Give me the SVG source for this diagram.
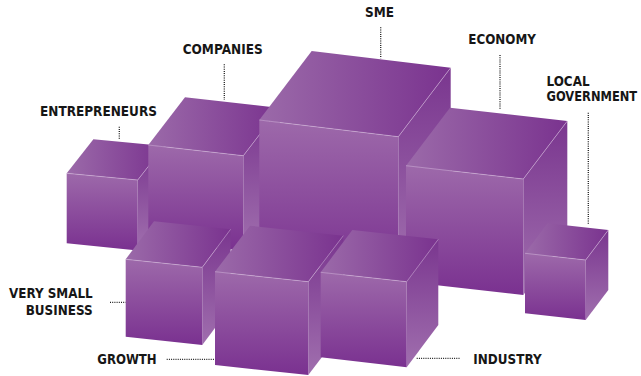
<svg xmlns="http://www.w3.org/2000/svg" width="641" height="376" viewBox="0 0 641 376">
<defs>
<linearGradient id="gFront" x1="0" y1="0" x2="0" y2="1"><stop offset="0" stop-color="#9d69aa"/><stop offset="1" stop-color="#7a3190"/></linearGradient>
<linearGradient id="gTop" x1="0" y1="0" x2="1" y2="0"><stop offset="0" stop-color="#9b6aa9"/><stop offset="1" stop-color="#7a338f"/></linearGradient>
<linearGradient id="gSide" x1="0" y1="0" x2="0" y2="1"><stop offset="0" stop-color="#7a368f"/><stop offset="1" stop-color="#a06fae"/></linearGradient>
</defs>
<style>
.f{fill:url(#gFront)}
.t{fill:url(#gTop)}
.s{fill:url(#gSide)}
.e{fill:none;stroke:#dcc2e2;stroke-width:0.6;stroke-opacity:0.8}
.lbl{font-family:"DejaVu Sans","Liberation Sans",sans-serif;font-weight:700;font-size:13.5px;fill:#161616}
.dot{fill:none;stroke:#1e1e1e;stroke-width:1.3;stroke-dasharray:1 1.2}
</style>
<rect width="641" height="376" fill="#ffffff"/>

<g id="entrepreneurs">
<polygon class="t" points="66.7,173.3 93.4,139.3 164.4,146 137.7,180"/>
<polygon class="s" points="137.7,180 164.4,146 164.4,216.5 137.7,250.5"/>
<polygon class="f" points="66.7,173.3 137.7,180 137.7,250.5 66.7,243.3"/>
<polyline class="e" points="66.7,173.3 137.7,180 164.4,146"/>
<text class="lbl" x="40" y="116" textLength="117" lengthAdjust="spacingAndGlyphs">ENTREPRENEURS</text>
</g>

<g id="companies">
<polygon class="t" points="148.3,145 185,97.3 280,108 243.3,155.7"/>
<polygon class="s" points="243.3,155.7 280,108 280,203 243.3,250.7"/>
<polygon class="f" points="148.3,145 243.3,155.7 243.3,250.7 148.3,240"/>
<polyline class="e" points="148.3,145 243.3,155.7 280,108"/>
<text class="lbl" x="182.7" y="54" textLength="80" lengthAdjust="spacingAndGlyphs">COMPANIES</text>
</g>

<g id="sme">
<polygon class="t" points="259.3,120 311.7,51 450.7,67.7 398.3,136.7"/>
<polygon class="s" points="398.3,136.7 450.7,67.7 450.7,206.7 398.3,275.7"/>
<polygon class="f" points="259.3,120 398.3,136.7 398.3,275.7 259.3,259"/>
<polyline class="e" points="259.3,120 398.3,136.7 450.7,67.7"/>
<text class="lbl" x="365" y="16.7" textLength="29" lengthAdjust="spacingAndGlyphs">SME</text>
</g>

<g id="economy">
<polygon class="t" points="406,165.7 450,107.7 567.3,121 523.3,179"/>
<polygon class="s" points="523.3,179 567.3,121 567.3,237 523.3,295"/>
<polygon class="f" points="406,165.7 523.3,179 523.3,295 406,281.7"/>
<polyline class="e" points="406,165.7 523.3,179 567.3,121"/>
<text class="lbl" x="468.3" y="44.3" textLength="67.7" lengthAdjust="spacingAndGlyphs">ECONOMY</text>
</g>

<g id="local-government">
<polygon class="t" points="525,253.3 547.6,223.3 608.3,230 585.7,260"/>
<polygon class="s" points="585.7,260 608.3,230 608.3,290 585.7,320"/>
<polygon class="f" points="525,253.3 585.7,260 585.7,320 525,313.3"/>
<polyline class="e" points="525,253.3 585.7,260 608.3,230"/>
<text class="lbl" x="546.5" y="86" textLength="43" lengthAdjust="spacingAndGlyphs">LOCAL</text>
<text class="lbl" transform="translate(546.5,100.7) scale(0.85,1)" x="0" y="0">GOVERNMENT</text>
</g>

<g id="very-small-business">
<polygon class="t" points="125.7,259.3 154,221.3 230.6,229.3 202.3,267.3"/>
<polygon class="s" points="202.3,267.3 230.6,229.3 230.6,307 202.3,345"/>
<polygon class="f" points="125.7,259.3 202.3,267.3 202.3,345 125.7,336.7"/>
<polyline class="e" points="125.7,259.3 202.3,267.3 230.6,229.3"/>
<text class="lbl" x="9" y="297.5" textLength="83.7" lengthAdjust="spacingAndGlyphs">VERY SMALL</text>
<text class="lbl" x="25.7" y="315" textLength="67" lengthAdjust="spacingAndGlyphs">BUSINESS</text>
</g>

<g id="growth">
<polygon class="t" points="215,271.7 250,225.7 343.3,235.7 308.3,281.7"/>
<polygon class="s" points="308.3,281.7 343.3,235.7 343.3,329 308.3,375"/>
<polygon class="f" points="215,271.7 308.3,281.7 308.3,375 215,365"/>
<polyline class="e" points="215,271.7 308.3,281.7 343.3,235.7"/>
<text class="lbl" x="97.3" y="364" textLength="59.4" lengthAdjust="spacingAndGlyphs">GROWTH</text>
</g>

<g id="industry">
<polygon class="t" points="320.7,272.3 352.3,229.9 438.3,239.3 406.7,281.7"/>
<polygon class="s" points="406.7,281.7 438.3,239.3 438.3,325 406.7,367.3"/>
<polygon class="f" points="320.7,272.3 406.7,281.7 406.7,367.3 320.7,357.3"/>
<polyline class="e" points="320.7,272.3 406.7,281.7 438.3,239.3"/>
<text class="lbl" x="473.3" y="364" textLength="68.4" lengthAdjust="spacingAndGlyphs">INDUSTRY</text>
</g>

<g id="connectors">
<line class="dot" x1="119.3" y1="126.7" x2="119.3" y2="140"/>
<line class="dot" x1="224.3" y1="64.3" x2="224.3" y2="100"/>
<line class="dot" x1="380.7" y1="27.3" x2="380.7" y2="58.3"/>
<line class="dot" x1="500" y1="55" x2="500" y2="110"/>
<line class="dot" x1="588.3" y1="112.7" x2="588.3" y2="225"/>
<line class="dot" x1="110" y1="302.3" x2="125.7" y2="302.3"/>
<line class="dot" x1="166.7" y1="359.3" x2="215" y2="359.3"/>
<line class="dot" x1="416.7" y1="358.3" x2="460" y2="358.3"/>
</g>
</svg>
